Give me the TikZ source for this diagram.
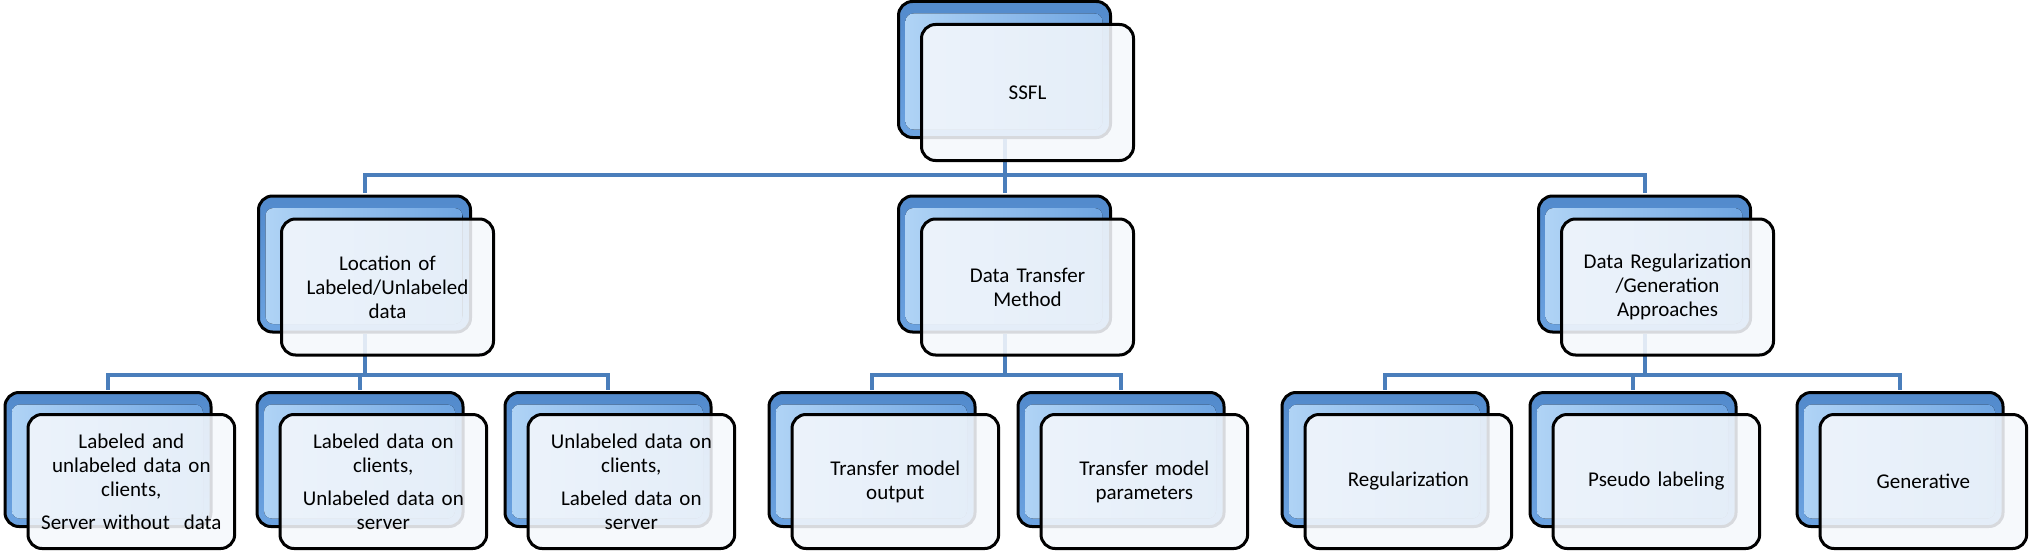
\documentclass[tikz,border=0pt]{standalone}
\usepackage{fontspec}
\setmainfont{Carlito}
\usetikzlibrary{positioning}

\definecolor{linkblue}{RGB}{74,126,187}
\definecolor{bevelout}{RGB}{82,138,204}
\definecolor{bevelmid}{RGB}{108,163,225}
\definecolor{bevelin}{RGB}{178,213,246}
\definecolor{cardfill}{RGB}{245,248,252}

\begin{document}
\begin{tikzpicture}[
    x=1pt, y=-1pt,
    every node/.style={font=\fontsize{21}{24}\selectfont, align=center},
    back/.style={draw=black, line width=3pt, rounded corners=14pt, minimum width=212pt, minimum height=136pt,
        top color=bevelout, bottom color=bevelmid,
        path picture={\fill[left color=bevelin, right color=bevelmid, rounded corners=8pt]
            ([shift={(7pt,-12pt)}]path picture bounding box.north west) rectangle
            ([shift={(-8pt,8pt)}]path picture bounding box.south east);}},
    front/.style={draw=black, line width=3pt, rounded corners=14pt, minimum width=212pt, minimum height=136pt,
        fill=cardfill, fill opacity=0.88, draw opacity=1, text opacity=1, text width=200pt},
    small/.style={minimum width=206pt, minimum height=134pt},
    conn/.style={draw=linkblue, line width=4pt, shorten >=1.5pt}
]
\useasboundingbox (0,0) rectangle (2032,551);

% Back cards
\node[back] (ssflb) at (1004.5,69.5) {};
\node[back] (locb) at (364.5,264) {};
\node[back] (transb) at (1004.5,264) {};
\node[back] (regb) at (1644.5,264) {};
\node[back, small] (bothb) at (108,459.5) {};
\node[back, small] (lcb) at (360,459.5) {};
\node[back, small] (ucb) at (608,459.5) {};
\node[back, small] (outb) at (872,459.5) {};
\node[back, small] (parb) at (1121,459.5) {};
\node[back, small] (regub) at (1385,459.5) {};
\node[back, small] (pseudob) at (1633,459.5) {};
\node[back, small] (genb) at (1900,459.5) {};

% Paths
\draw[conn] (ssflb.south) -- ++(0,35.5) -| (locb.north);
\draw[conn] (ssflb.south) -- ++(0,35.5) -| (transb.north);
\draw[conn] (ssflb.south) -- ++(0,35.5) -| (regb.north);
\draw[conn] (locb.south) -- ++(0,41) -| (bothb.north);
\draw[conn] (locb.south) -- ++(0,41) -| (lcb.north);
\draw[conn] (locb.south) -- ++(0,41) -| (ucb.north);
\draw[conn] (transb.south) -- ++(0,41) -| (outb.north);
\draw[conn] (transb.south) -- ++(0,41) -| (parb.north);
\draw[conn] (regb.south) -- ++(0,41) -| (regub.north);
\draw[conn] (regb.south) -- ++(0,41) -| (pseudob.north);
\draw[conn] (regb.south) -- ++(0,41) -| (genb.north);

% Front cards
\node[front, below right=23pt and 23pt of ssflb.north west] (ssfl) {SSFL};
\node[front, below right=23pt and 23pt of locb.north west] (loc) {Location of\\Labeled/Unlabeled\\data};
\node[front, below right=23pt and 23pt of transb.north west] (trans) {Data Transfer\\Method};
\node[front, below right=23pt and 23pt of regb.north west] (reg) {Data Regularization\\/Generation\\Approaches};
\node[front, small, below right=22pt and 23pt of bothb.north west] (both) {Labeled and\\unlabeled data on\\clients,\\[9pt]Server without\ \ data};
\node[front, small, below right=22pt and 23pt of lcb.north west] (lc) {Labeled data on\\clients,\\[9pt]Unlabeled data on\\server};
\node[front, small, below right=22pt and 23pt of ucb.north west] (uc) {Unlabeled data on\\clients,\\[9pt]Labeled data on\\server};
\node[front, small, below right=22pt and 23pt of outb.north west] (out) {Transfer model\\output};
\node[front, small, below right=22pt and 23pt of parb.north west] (par) {Transfer model\\parameters};
\node[front, small, below right=22pt and 23pt of regub.north west] (regu) {Regularization};
\node[front, small, below right=22pt and 23pt of pseudob.north west] (pseudo) {Pseudo labeling};
\node[front, small, below right=22pt and 23pt of genb.north west] (gen) {Generative};

\end{tikzpicture}
\end{document}
